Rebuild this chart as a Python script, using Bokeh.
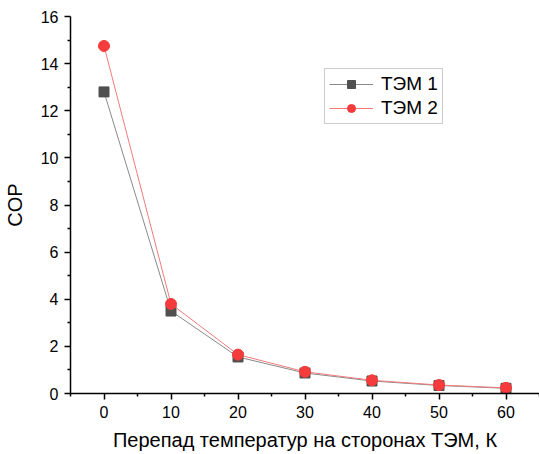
from bokeh.plotting import figure
from bokeh.models import Range1d, Legend, LegendItem, FixedTicker
from bokeh.embed import file_html
from bokeh.resources import INLINE

dT = [0, 10, 20, 30, 40, 50, 60]
tem1 = [12.8, 3.5, 1.55, 0.87, 0.53, 0.34, 0.22]
tem2 = [14.75, 3.8, 1.65, 0.92, 0.56, 0.36, 0.24]
x_ticks = [0, 10, 20, 30, 40, 50, 60]
y_ticks = [0, 2, 4, 6, 8, 10, 12, 14, 16]

p = figure(width=539, height=454, output_backend="svg", toolbar_location=None,
           x_range=Range1d(-5, 65), y_range=Range1d(0, 16),
           min_border_left=70, min_border_right=0, min_border_top=16, min_border_bottom=61)
p.outline_line_color = None
p.grid.visible = False
p.background_fill_color = "white"

font = "Liberation Sans"
for ax in (p.xaxis[0], p.yaxis[0]):
    ax.axis_line_width = 1.5
    ax.axis_line_color = "black"
    ax.major_tick_line_width = 1.5
    ax.minor_tick_line_width = 1.5
    ax.major_tick_out = 6
    ax.major_tick_in = 0
    ax.minor_tick_out = 3
    ax.minor_tick_in = 0
    ax.major_label_text_font = font
    ax.major_label_text_font_size = "16px"
    ax.major_label_text_color = "black"
    ax.axis_label_text_font = font
    ax.axis_label_text_font_size = "20px"
    ax.axis_label_text_font_style = "normal"
    ax.axis_label_text_color = "black"

p.xaxis.ticker = FixedTicker(ticks=x_ticks, minor_ticks=[-5, 5, 15, 25, 35, 45, 55, 65])
p.yaxis.ticker = FixedTicker(ticks=y_ticks, minor_ticks=[1, 3, 5, 7, 9, 11, 13, 15])
p.xaxis.axis_label = "Перепад температур на сторонах ТЭМ, К"
p.yaxis.axis_label = "COP"
p.xaxis.axis_label_standoff = 8
p.yaxis.axis_label_standoff = 12
p.xaxis.major_label_standoff = 6
p.yaxis.major_label_standoff = 6

l1 = p.line(dT, tem1, line_color="#8a8a8a", line_width=1)
m1 = p.scatter(dT, tem1, marker="square", size=10, fill_color="#505050", line_color="#505050")
l2 = p.line(dT, tem2, line_color="#f27a7a", line_width=1)
m2 = p.scatter(dT, tem2, marker="circle", size=11, fill_color="#f53b3b", line_color="#f53b3b")

legend = Legend(items=[LegendItem(label="ТЭМ 1", renderers=[l1, m1]),
                       LegendItem(label="ТЭМ 2", renderers=[l2, m2])],
                location=(254, 269), orientation="vertical")
legend.label_text_font = font
legend.label_text_font_size = "19px"
legend.label_text_color = "black"
legend.glyph_width = 44
legend.glyph_height = 20
legend.label_height = 20
legend.spacing = 2
legend.padding = 4
legend.margin = 0
legend.label_standoff = 8
legend.border_line_color = "#999999"
legend.border_line_width = 1
legend.background_fill_alpha = 1
p.add_layout(legend, "center")

open("out.html", "w").write(file_html(p, INLINE))
